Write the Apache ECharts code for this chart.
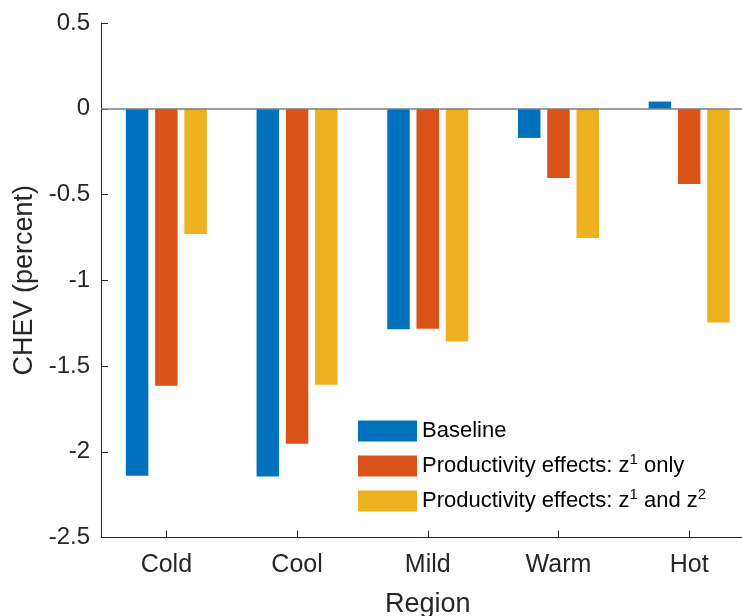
<!DOCTYPE html>
<html>
<head>
<meta charset="utf-8">
<script src="https://cdn.jsdelivr.net/npm/echarts@6/dist/echarts.min.js"></script>
<style>html,body{margin:0;padding:0;background:#fff;}#c{width:742px;height:616px;}</style>
</head>
<body>
<div id="c"></div>
<script>
var categories = ['Cold', 'Cool', 'Mild', 'Warm', 'Hot'];
var baseline = [-2.14, -2.145, -1.286, -0.17, 0.042];
var zOneOnly = [-1.615, -1.953, -1.283, -0.404, -0.439];
var zOneAndTwo = [-0.73, -1.61, -1.357, -0.754, -1.246];
var seriesNames = ['Baseline', 'Productivity effects: z1 only', 'Productivity effects: z1 and z2'];
var yTicks = { min: -2.5, max: 0.5, interval: 0.5 };

var FONT = 'Liberation Sans, Arial, Helvetica, sans-serif';
var AXIS = '#262626';
var colors = ['#0072BD', '#D95319', '#EDB120'];

var legendLabels = {};
legendLabels[seriesNames[0]] = '{n|Baseline}';
legendLabels[seriesNames[1]] = '{n|Productivity effects: z}{s|1}{n| only}';
legendLabels[seriesNames[2]] = '{n|Productivity effects: z}{s|1}{n| and z}{s|2}';

var chart = echarts.init(document.getElementById('c'), null, { renderer: 'canvas' });

function barSeries(name, data, color, extra) {
  var s = {
    name: name,
    type: 'bar',
    data: data,
    barWidth: 22.5,
    barGap: '30%',
    itemStyle: { color: color },
    emphasis: { disabled: true },
    animation: false
  };
  if (extra) { for (var k in extra) s[k] = extra[k]; }
  return s;
}

var option = {
  backgroundColor: '#ffffff',
  animation: false,
  textStyle: { fontFamily: FONT },
  grid: { left: 101, top: 23, width: 653.5, height: 514.5, containLabel: false, outerBoundsMode: 'none' },
  legend: {
    orient: 'vertical',
    left: 358,
    top: 417,
    padding: 0,
    itemWidth: 59,
    itemHeight: 21,
    itemGap: 7,
    icon: 'rect',
    selectedMode: false,
    data: seriesNames,
    formatter: function (name) { return legendLabels[name]; },
    textStyle: {
      color: '#000',
      fontFamily: FONT,
      fontSize: 22,
      lineHeight: 28,
      rich: {
        n: { fontSize: 22, lineHeight: 28, fontFamily: FONT, color: '#000' },
        s: { fontSize: 15, lineHeight: 14, fontFamily: FONT, color: '#000', verticalAlign: 'top' }
      }
    }
  },
  xAxis: {
    type: 'category',
    data: categories,
    boundaryGap: true,
    name: 'Region',
    nameLocation: 'middle',
    nameGap: 54,
    nameTextStyle: { fontSize: 27, color: AXIS, fontFamily: FONT },
    axisLine: { onZero: false, lineStyle: { color: AXIS, width: 1 } },
    axisTick: { show: true, inside: true, length: 7, alignWithLabel: true, lineStyle: { color: AXIS } },
    axisLabel: { fontSize: 25, color: AXIS, margin: 15, fontFamily: FONT },
    splitLine: { show: false }
  },
  yAxis: {
    type: 'value',
    min: yTicks.min,
    max: yTicks.max,
    interval: yTicks.interval,
    name: 'CHEV (percent)',
    nameLocation: 'middle',
    nameGap: 63,
    nameTextStyle: { fontSize: 27, color: AXIS, fontFamily: FONT },
    axisLine: { show: true, lineStyle: { color: AXIS, width: 1 } },
    axisTick: { show: true, inside: true, length: 7, lineStyle: { color: AXIS } },
    axisLabel: { fontSize: 24, color: AXIS, margin: 11, fontFamily: FONT },
    splitLine: { show: false }
  },
  series: [
    barSeries(seriesNames[0], baseline, colors[0], {
      markLine: {
        silent: true,
        symbol: ['none', 'none'],
        label: { show: false },
        lineStyle: { color: '#7f7f7f', width: 1.5, type: 'solid' },
        data: [{ yAxis: 0 }],
        animation: false,
        z: 5
      }
    }),
    barSeries(seriesNames[1], zOneOnly, colors[1]),
    barSeries(seriesNames[2], zOneAndTwo, colors[2])
  ]
};
chart.setOption(option);
</script>
</body>
</html>
